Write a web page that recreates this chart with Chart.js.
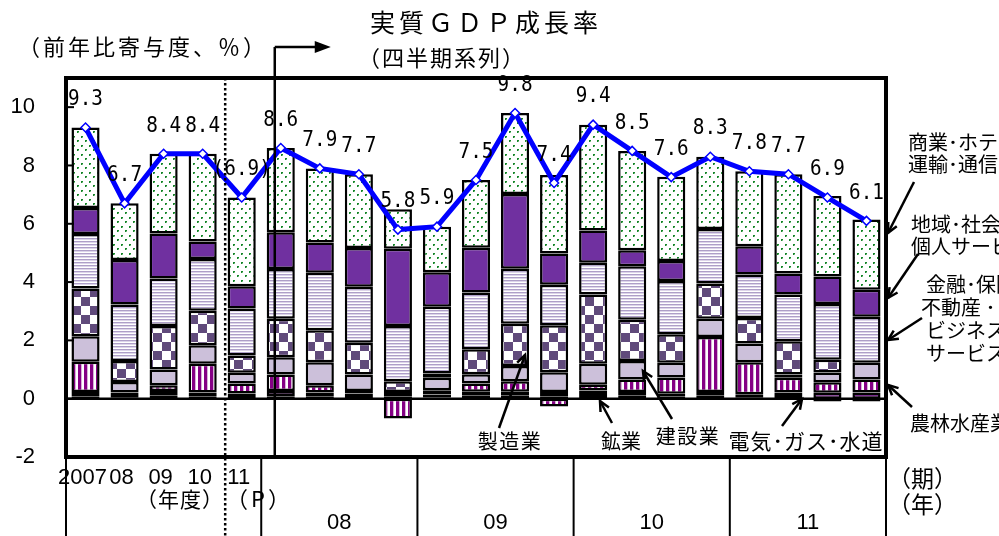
<!DOCTYPE html>
<html>
<head>
<meta charset="utf-8">
<script src="https://cdn.jsdelivr.net/npm/chart.js@4.4.1/dist/chart.umd.min.js"></script>
<style>
  html, body { margin: 0; padding: 0; background: #fff; }
  #wrap { width: 999px; height: 536px; position: relative; }
</style>
</head>
<body>
<div id="wrap"><canvas id="gdpChart"></canvas></div>
<script>
// fiscal years 2007-2011(P), then quarters 2008-2011
const categories = ['2007', '08', '09', '10', '11(P)',
  '08Q1', '08Q2', '08Q3', '08Q4', '09Q1', '09Q2', '09Q3', '09Q4',
  '10Q1', '10Q2', '10Q3', '10Q4', '11Q1', '11Q2', '11Q3', '11Q4'];
const annualLabels = ['2007', '08', '09', '10', '11'];
const yearLabels = ['08', '09', '10', '11'];
const yTicks = [-2, 0, 2, 4, 6, 8, 10];

// real GDP growth (%)
const gdp = [9.3, 6.7, 8.4, 8.4, 6.9, 8.6, 7.9, 7.7, 5.8, 5.9, 7.5, 9.8, 7.4, 9.4, 8.5, 7.6, 8.3, 7.8, 7.7, 6.9, 6.1];

// contributions by sector (points), bottom of the stack first
const mining        = [0.08, 0.05, 0.10, 0.07, 0.06, 0.08, 0.07, 0.06, 0.08, 0.04, 0.10, 0.10, 0.07, 0.16, 0.10, 0.07, 0.10, 0.05, 0.06, -0.10, -0.10];
const electricity   = [0.15, 0.16, 0.16, 0.14, 0.12, 0.18, 0.14, 0.12, 0.15, 0.10, 0.14, 0.14, 0.16, 0.12, 0.13, 0.10, 0.13, 0.10, 0.15, 0.20, 0.21];
const agriculture   = [1.04, 0.00, 0.20, 0.99, 0.34, 0.57, 0.25, 0.08, -0.68, 0.15, 0.28, 0.36, -0.27, 0.20, 0.43, 0.56, 1.89, 1.10, 0.51, 0.36, 0.45];
const construction  = [0.87, 0.36, 0.54, 0.63, 0.37, 0.59, 0.79, 0.57, 0.00, 0.43, 0.32, 0.52, 0.68, 0.72, 0.63, 0.50, 0.62, 0.64, 0.11, 0.34, 0.57];
const manufacturing = [1.64, 0.72, 1.49, 1.19, 0.59, 1.32, 1.10, 1.09, 0.37, 0.14, 0.86, 1.45, 1.61, 2.37, 1.42, 0.98, 1.21, 0.88, 1.14, 0.44, 0.00];
const finance       = [1.87, 1.94, 1.63, 1.77, 1.61, 1.71, 1.97, 1.92, 1.89, 2.29, 1.94, 1.89, 1.39, 1.09, 1.83, 1.83, 1.87, 1.49, 1.60, 1.91, 1.58];
const community     = [0.89, 1.53, 1.55, 0.60, 0.77, 1.26, 1.04, 1.33, 2.65, 1.19, 1.54, 2.56, 1.07, 1.11, 0.55, 0.68, 0.00, 0.97, 0.72, 0.94, 0.93];
const trade         = [2.76, 1.94, 2.73, 3.01, 3.04, 2.89, 2.54, 2.53, 1.36, 1.56, 2.32, 2.78, 2.69, 3.63, 3.41, 2.89, 2.48, 2.57, 3.41, 2.76, 2.41];

// fill patterns
function makePattern(w, h, draw) {
    const c = document.createElement('canvas');
    c.width = w; c.height = h;
    const g = c.getContext('2d');
    draw(g);
    return g.createPattern(c, 'repeat');
}

const patElec = makePattern(6, 3, g => {
    g.fillStyle = '#7b2c8e'; g.fillRect(0, 0, 6, 3);
    g.fillStyle = '#fff'; g.fillRect(0, 1, 3, 1);
});
const patAgri = makePattern(6, 4, g => {
    g.fillStyle = '#fff'; g.fillRect(0, 0, 6, 4);
    g.fillStyle = '#850085'; g.fillRect(0, 0, 3, 4);
    g.fillStyle = '#d7b0d7'; g.fillRect(3, 0, 1, 4);
});
const patChecker = makePattern(18, 18, g => {
    g.fillStyle = '#fff'; g.fillRect(0, 0, 18, 18);
    g.fillStyle = '#604a7b'; g.fillRect(0, 0, 9, 9); g.fillRect(9, 9, 9, 9);
});
const patFinance = makePattern(4, 3, g => {
    g.fillStyle = '#fff'; g.fillRect(0, 0, 4, 3);
    g.fillStyle = '#ae9fc8'; g.fillRect(0, 1, 4, 1);
    g.fillStyle = '#ddd5ea'; g.fillRect(0, 2, 4, 1);
});
const patDots = makePattern(8, 9, g => {
    g.fillStyle = '#fff'; g.fillRect(0, 0, 8, 9);
    g.fillStyle = '#7cc283';
    g.fillRect(1, 1, 2, 2); g.fillRect(5, 5, 2, 2);
    g.fillStyle = '#17852a';
    g.fillRect(1, 1, 2, 1); g.fillRect(1, 1, 1, 2);
    g.fillRect(5, 5, 2, 1); g.fillRect(5, 5, 1, 2);
});

function barSet(label, data, fill) {
    return {
        type: 'bar', label: label, data: data, backgroundColor: fill,
        borderColor: '#000', borderWidth: 2.5, borderSkipped: false,
        barPercentage: 0.72, categoryPercentage: 1, order: 1, yAxisID: 'y'
    };
}

function drawLine(ctx, x1, y1, x2, y2, w) {
    ctx.lineWidth = w;
    ctx.beginPath(); ctx.moveTo(x1, y1); ctx.lineTo(x2, y2); ctx.stroke();
}

// line with an open V head at (x2, y2)
function drawArrow(ctx, x1, y1, x2, y2) {
    drawLine(ctx, x1, y1, x2, y2, 2.5);
    const a = Math.atan2(y2 - y1, x2 - x1), L = 11;
    ctx.beginPath();
    ctx.moveTo(x2 - L * Math.cos(a - 0.45), y2 - L * Math.sin(a - 0.45));
    ctx.lineTo(x2, y2);
    ctx.lineTo(x2 - L * Math.cos(a + 0.45), y2 - L * Math.sin(a + 0.45));
    ctx.stroke();
}

function drawText(ctx, s, x, y, size, align, spacing, family) {
    ctx.font = size + 'px ' + (family || '"Noto Sans CJK JP"');
    ctx.textAlign = align;
    ctx.textBaseline = 'middle';
    ctx.letterSpacing = (spacing || 0) + 'px';
    ctx.fillText(s, x, y);
    ctx.letterSpacing = '0px';
}

const overlay = {
    id: 'overlay',
    afterDraw(chart) {
        const ctx = chart.ctx;
        const area = chart.chartArea;
        const xs = chart.scales.x, ys = chart.scales.y;
        const px = i => xs.getPixelForValue(i);
        const mid = i => (px(i) + px(i + 1)) / 2;
        const H = chart.height;
        ctx.save();
        ctx.strokeStyle = '#000';
        ctx.fillStyle = '#000';

        // zero line and inner ticks
        const y0 = ys.getPixelForValue(0);
        drawLine(ctx, area.left, y0, area.right, y0, 2.5);
        yTicks.forEach(v => {
            const y = ys.getPixelForValue(v);
            drawLine(ctx, area.left, y, area.left + 8, y, 2);
        });

        // plot frame
        ctx.lineWidth = 4;
        ctx.strokeRect(area.left, area.top, area.right - area.left, area.bottom - area.top);

        // lower table separators
        [area.left, mid(4), mid(8), mid(12), mid(16), area.right].forEach(x => {
            drawLine(ctx, x, area.bottom, x, H, 2);
        });

        // dotted line before 11(P)
        ctx.setLineDash([2.5, 2.5]);
        drawLine(ctx, mid(3) + 3, area.top, mid(3) + 3, H, 2.5);
        ctx.setLineDash([]);

        // divider to the quarterly series with arrow
        const xd = px(5) - 6;
        drawLine(ctx, xd, 47, xd, area.bottom, 2.5);
        drawLine(ctx, xd, 47, xd + 42, 47, 2.5);
        ctx.beginPath();
        ctx.moveTo(xd + 56, 47); ctx.lineTo(xd + 40, 41); ctx.lineTo(xd + 40, 53);
        ctx.closePath(); ctx.fill();

        // growth labels
        const pts = chart.getDatasetMeta(8).data;
        ctx.font = '22px "DejaVu Sans Mono"';
        ctx.textAlign = 'center';
        ctx.textBaseline = 'middle';
        pts.forEach((p, i) => {
            const s = i === 4 ? '(' + gdp[i].toFixed(1) + ')' : gdp[i].toFixed(1);
            ctx.save();
            ctx.translate(p.x, p.y - 28);
            ctx.scale(0.88, 1);
            ctx.fillText(s, 0, 0);
            ctx.restore();
        });

        // titles
        drawText(ctx, '実質ＧＤＰ成長率', 370, 22, 25, 'left', 4);
        drawText(ctx, '（四半期系列）', 358, 58, 22, 'left', 2);
        drawText(ctx, '（前年比寄与度、％）', 18, 47, 22, 'left', 3);

        // x labels
        annualLabels.forEach((s, i) => {
            drawText(ctx, s, px(i) - 3, 478, 22, 'center', 0, '"Liberation Sans Narrow", "Liberation Sans"');
        });
        yearLabels.forEach((s, k) => {
            const x = (px(5 + 4 * k) + px(8 + 4 * k)) / 2;
            drawText(ctx, s, x, 523, 22, 'center', 0, '"Liberation Sans Narrow", "Liberation Sans"');
        });
        drawText(ctx, '（年度）', 136, 499, 21, 'left', 1);
        drawText(ctx, '（P）', 226, 499, 22, 'left', 3);
        drawText(ctx, '（期）', 888, 478, 23, 'left', 0);
        drawText(ctx, '（年）', 888, 504, 23, 'left', 0);

        // sector notes, right side
        drawText(ctx, '商業･ホテル･', 908, 142, 20, 'left', 0);
        drawText(ctx, '運輸･通信', 908, 164, 20, 'left', 0);
        drawArrow(ctx, 914, 182, 888, 233);
        drawText(ctx, '地域･社会･', 911, 224, 20, 'left', 0);
        drawText(ctx, '個人サービス', 911, 246, 20, 'left', 0);
        drawArrow(ctx, 918, 254, 888, 298);
        drawText(ctx, '金融･保険･', 926, 284, 20, 'left', 0);
        drawText(ctx, '不動産 ･', 921, 307, 20, 'left', 0);
        drawText(ctx, 'ビジネス', 926, 330, 20, 'left', 0);
        drawText(ctx, 'サービス', 926, 353, 20, 'left', 0);
        drawArrow(ctx, 922, 318, 888, 340);
        drawText(ctx, '農林水産業', 910, 423, 20, 'left', 0);
        drawArrow(ctx, 912, 407, 888, 385);

        // sector notes, bottom
        drawText(ctx, '製造業', 510, 441, 20, 'center', 1.5);
        drawArrow(ctx, 499, 428, 525, 355);
        drawText(ctx, '鉱業', 621, 441, 20, 'center', 0);
        drawArrow(ctx, 612, 423, 600, 401);
        drawText(ctx, '建設業', 688, 436, 20, 'center', 1.5);
        drawArrow(ctx, 672, 419, 643, 371);
        drawText(ctx, '電気･ガス･水道', 806, 441, 21, 'center', 1);
        drawArrow(ctx, 782, 426, 802, 399);

        ctx.restore();
    }
};

new Chart(document.getElementById('gdpChart'), {
    data: {
        labels: categories,
        datasets: [
            barSet('鉱業', mining, '#ffffc0'),
            barSet('電気・ガス・水道', electricity, patElec),
            barSet('農林水産業', agriculture, patAgri),
            barSet('建設業', construction, '#ccc0da'),
            barSet('製造業', manufacturing, patChecker),
            barSet('金融・保険・不動産・ビジネスサービス', finance, patFinance),
            barSet('地域・社会・個人サービス', community, '#7030a0'),
            barSet('商業・ホテル・運輸・通信', trade, patDots),
            {
                type: 'line', label: '実質GDP成長率', data: gdp, yAxisID: 'yLine', order: 0,
                borderColor: '#0000ff', borderWidth: 5, tension: 0,
                pointStyle: 'rectRot', pointRadius: 4.5, pointBackgroundColor: '#fff',
                pointBorderColor: '#0000ff', pointBorderWidth: 1.5
            }
        ]
    },
    options: {
        responsive: true,
        maintainAspectRatio: false,
        animation: false,
        layout: { padding: { top: 78, right: 113, bottom: 79, left: 0 } },
        plugins: { legend: { display: false }, tooltip: { enabled: false }, title: { display: false } },
        scales: {
            x: { display: false, stacked: true, offset: true },
            y: {
                stacked: true, min: -2, max: 11,
                afterBuildTicks: s => { s.ticks = yTicks.map(v => ({ value: v })); },
                afterFit: s => { s.width = 66; },
                ticks: { font: { family: 'Liberation Sans', size: 22 }, color: '#000', padding: 31 },
                grid: { display: false, drawTicks: false },
                border: { display: false }
            },
            yLine: { display: false, min: -2, max: 11 }
        }
    },
    plugins: [overlay]
});
</script>
</body>
</html>
